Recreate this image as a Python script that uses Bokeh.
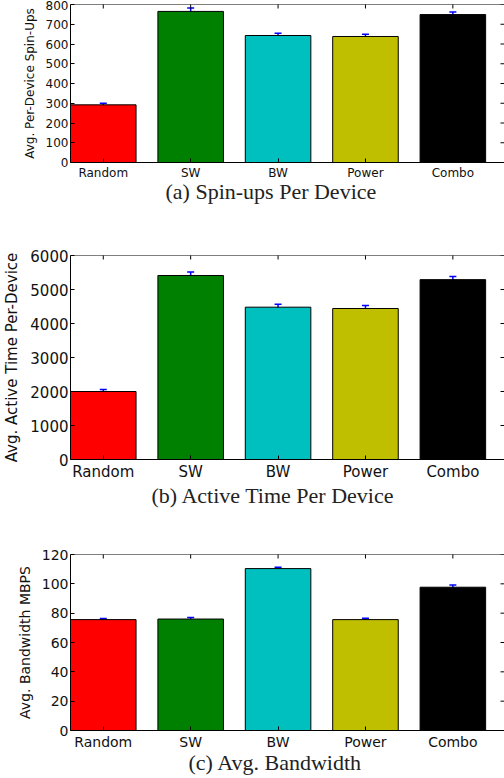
import math
from bokeh.plotting import figure
from bokeh.models import (ColumnDataSource, Range1d, FixedTicker, Whisker, TeeHead,
                          LinearAxis, Title, Span)
from bokeh.layouts import column
from bokeh.embed import file_html
from bokeh.resources import INLINE

# ---- data ----
categories = ["Random", "SW", "BW", "Power", "Combo"]
bar_colors = ["#ff0000", "#008000", "#00bfbf", "#bfbf00", "#000000"]

spinups = [292, 765, 643, 638, 749]
spinups_err = [8, 17, 12, 12, 13]

active_time = [2000, 5412, 4480, 4441, 5290]
active_err = [59, 103, 88, 88, 93]

bandwidth = [75.6, 76.0, 110.4, 75.6, 97.7]
bandwidth_err = [0.7, 1.0, 0.9, 1.0, 1.5]

captions = ["(a)  Spin-ups Per Device", "(b)  Active Time Per Device", "(c)  Avg. Bandwidth"]
ylabels = ["Avg. Per-Device Spin-Ups", "Avg. Active Time Per-Device", "Avg. Bandwidth MBPS"]
ymax = [800, 6000, 120]
ystep = [100, 1000, 20]
yticks = [list(range(0, m + s, s)) for m, s in zip(ymax, ystep)]


def make_panel(values, errs, caption, ylabel, top, ticks, height, border_top,
               frame_h, font_px, ylabel_px, cap_offset, cap_standoff):
    x = list(range(len(categories)))
    x_end = -0.375 + 437 / 88
    src = ColumnDataSource(dict(
        x=x, top=values, color=bar_colors,
        upper=[v + e for v, e in zip(values, errs)],
        lower=[v - e for v, e in zip(values, errs)],
    ))
    p = figure(width=504, height=height, output_backend="svg", toolbar_location=None,
               x_range=Range1d(-0.375, x_end), y_range=Range1d(0, top),
               min_border_left=67, min_border_right=0, min_border_top=border_top,
               min_border_bottom=height - border_top - frame_h,
               x_axis_location=None, y_axis_location=None)
    p.outline_line_color = None
    p.background_fill_color = "white"
    p.border_fill_color = "white"
    p.xgrid.visible = False
    p.ygrid.visible = False

    p.vbar(x="x", top="top", width=0.75, source=src, fill_color="color",
           line_color="black", line_width=1)
    w = Whisker(base="x", upper="upper", lower="lower", source=src,
                line_color="#0000ff", line_width=1.5,
                upper_head=TeeHead(size=7, line_color="#0000ff", line_width=1.5),
                lower_head=TeeHead(size=7, line_color="#0000ff", line_width=1.5))
    p.add_layout(w)

    # top spine with inward ticks at the categories, right-side inward ticks
    p.add_layout(Span(location=top, dimension="width", line_color="black", line_width=1))
    p.scatter(x=x, y=[top] * len(x), marker="dash", angle=math.pi / 2, size=8,
              line_color="black", line_width=1)
    p.scatter(x=[x_end] * len(ticks), y=ticks, marker="dash", size=8,
              line_color="black", line_width=1)

    tick_font = f"{font_px}px"

    def style(ax):
        ax.major_tick_in = 4
        ax.major_tick_out = 0
        ax.minor_tick_line_color = None
        ax.axis_line_color = "black"
        ax.major_tick_line_color = "black"
        ax.major_label_text_font = "DejaVu Sans"
        ax.major_label_text_color = "#111111"
        ax.major_label_text_font_size = tick_font
        ax.major_label_standoff = 3

    xb = LinearAxis(ticker=FixedTicker(ticks=x),
                    major_label_overrides={i: c for i, c in enumerate(categories)})
    style(xb)
    yl = LinearAxis(ticker=FixedTicker(ticks=ticks), axis_label=ylabel)
    style(yl)
    yl.major_label_standoff = 2
    yl.axis_label_text_font = "DejaVu Sans"
    yl.axis_label_text_font_style = "normal"
    yl.axis_label_text_font_size = f"{ylabel_px}px"
    yl.axis_label_text_color = "#111111"
    yl.axis_label_standoff = 6

    p.add_layout(xb, "below")
    p.add_layout(yl, "left")

    t = Title(text=caption, align="left", text_font="Liberation Serif",
              text_font_size="22px", text_font_style="normal", text_color="#222222",
              standoff=cap_standoff, offset=cap_offset)
    p.add_layout(t, "below")
    return p


p1 = make_panel(spinups, spinups_err, captions[0], ylabels[0], ymax[0], yticks[0],
                height=230, border_top=4, frame_h=158, font_px=12, ylabel_px=12,
                cap_offset=95, cap_standoff=-11)
p2 = make_panel(active_time, active_err, captions[1], ylabels[1], ymax[1], yticks[1],
                height=300, border_top=25, frame_h=204, font_px=15, ylabel_px=15,
                cap_offset=81, cap_standoff=-5)
p3 = make_panel(bandwidth, bandwidth_err, captions[2], ylabels[2], ymax[2], yticks[2],
                height=248, border_top=24, frame_h=176, font_px=14, ylabel_px=14,
                cap_offset=118, cap_standoff=-10)

layout = column(p1, p2, p3, spacing=0)
open("out.html", "w").write(file_html(layout, INLINE))
